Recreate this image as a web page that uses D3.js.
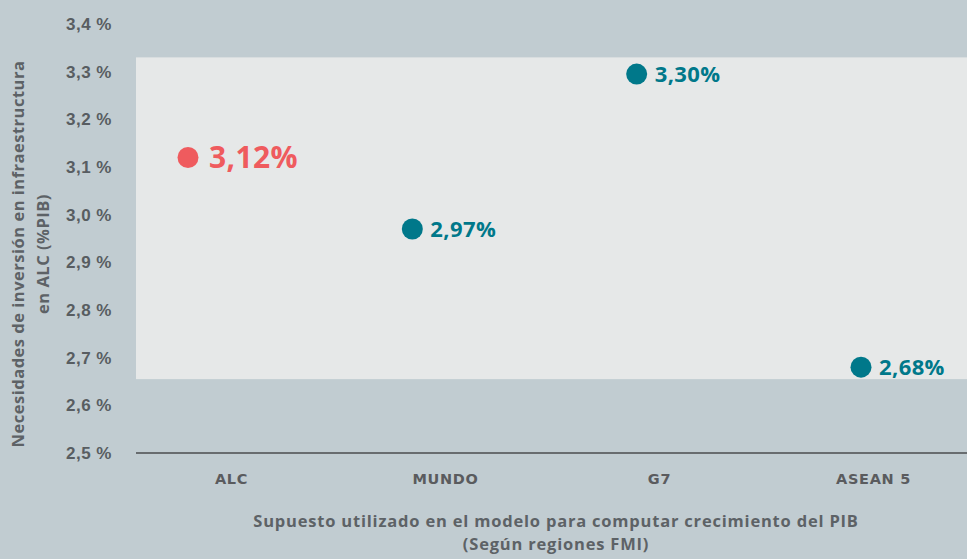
<!DOCTYPE html>
<html>
<head>
<meta charset="utf-8">
<script src="https://cdn.jsdelivr.net/npm/d3@7"></script>
<style>
  body { margin: 0; background: #c1ccd1; }
  svg { display: block; font-family: "Open Sans", sans-serif; }
  .tick text { font-weight: 700; fill: #585d61; }
</style>
</head>
<body>
<svg id="chart" width="967" height="559"></svg>
<script>
let width = 967;
let height = 559;

let categories = ["ALC", "MUNDO", "G7", "ASEAN 5"];
let values = [3.12, 2.97, 3.295, 2.68];
let valueLabels = ["3,12%", "2,97%", "3,30%", "2,68%"];
let yTicks = [2.5, 2.6, 2.7, 2.8, 2.9, 3.0, 3.1, 3.2, 3.3, 3.4];
let bandRange = [2.655, 3.33];

let svg = d3.select("#chart");
let margin = { top: 24, right: 0, bottom: 106, left: 136 };

let y = d3.scaleLinear()
    .domain([2.5, 3.4])
    .range([height - margin.bottom, margin.top]);

// dots and category labels sit on slightly different spacings
let xDot = d3.scalePoint()
    .domain(categories)
    .range([188, 861]);

let xLabel = d3.scalePoint()
    .domain(categories)
    .range([231, 873]);

// light highlight band
svg.append("rect")
    .attr("x", margin.left)
    .attr("width", width - margin.left)
    .attr("y", y(bandRange[1]))
    .attr("height", y(bandRange[0]) - y(bandRange[1]))
    .attr("fill", "#e6e8e8");

// y axis
let yAxis = svg.append("g")
    .attr("transform", `translate(${margin.left - 24},0)`)
    .call(d3.axisLeft(y)
        .tickValues(yTicks)
        .tickSize(0)
        .tickPadding(0)
        .tickFormat(d => d3.format(".1f")(d).replace(".", ",") + " %"))
    .call(g => g.select(".domain").remove());
yAxis.selectAll("text")
    .style("font-size", "17px")
    .style("letter-spacing", "0.5px");

// baseline
svg.append("line")
    .attr("x1", margin.left)
    .attr("x2", width)
    .attr("y1", y(2.5))
    .attr("y2", y(2.5))
    .attr("stroke", "#686c6f")
    .attr("stroke-width", 2);

// category labels
let xAxis = svg.append("g")
    .attr("transform", `translate(0,${y(2.5)})`)
    .call(d3.axisBottom(xLabel).tickSize(0).tickPadding(21))
    .call(g => g.select(".domain").remove());
xAxis.selectAll("text")
    .style("font-family", "'DejaVu Sans', sans-serif")
    .style("font-size", "14.5px")
    .style("letter-spacing", "0.7px")
    .style("fill", "#5a5b5e");

let points = categories.map((c, i) => ({ cat: c, value: values[i], label: valueLabels[i] }));

svg.append("g")
    .selectAll("circle")
    .data(points)
    .join("circle")
    .attr("cx", d => xDot(d.cat))
    .attr("cy", d => y(d.value))
    .attr("r", 10.5)
    .attr("fill", d => d.cat == "ALC" ? "#ef5b5e" : "#00788a");

svg.append("g")
    .selectAll("text")
    .data(points)
    .join("text")
    .attr("x", d => xDot(d.cat) + (d.cat == "ALC" ? 21 : 18))
    .attr("y", d => y(d.value))
    .attr("dy", "0.36em")
    .text(d => d.label)
    .style("font-weight", 700)
    .style("font-size", d => d.cat == "ALC" ? "30px" : "22px")
    .style("letter-spacing", "0.4px")
    .style("fill", d => d.cat == "ALC" ? "#ef5b5e" : "#00788a");

// axis titles
let yTitle = svg.append("text")
    .attr("transform", "translate(18,254) rotate(-90)")
    .attr("text-anchor", "middle")
    .style("font-weight", 700)
    .style("font-size", "16.5px")
    .style("letter-spacing", "0.5px")
    .style("fill", "#5d6266");
yTitle.append("tspan").attr("x", 0).attr("dy", "0.35em").text("Necesidades de inversión en infraestructura");
yTitle.append("tspan").attr("x", 0).attr("dy", "1.5em").text("en ALC (%PIB)");

let xTitle = svg.append("text")
    .attr("text-anchor", "middle")
    .attr("transform", "translate(556,527)")
    .style("font-weight", 700)
    .style("font-size", "16.5px")
    .style("letter-spacing", "0.8px")
    .style("fill", "#5d6266");
xTitle.append("tspan").attr("x", 0).attr("y", 0).text("Supuesto utilizado en el modelo para computar crecimiento del PIB");
xTitle.append("tspan").attr("x", 0).attr("y", 23).text("(Según regiones FMI)");
</script>
</body>
</html>
